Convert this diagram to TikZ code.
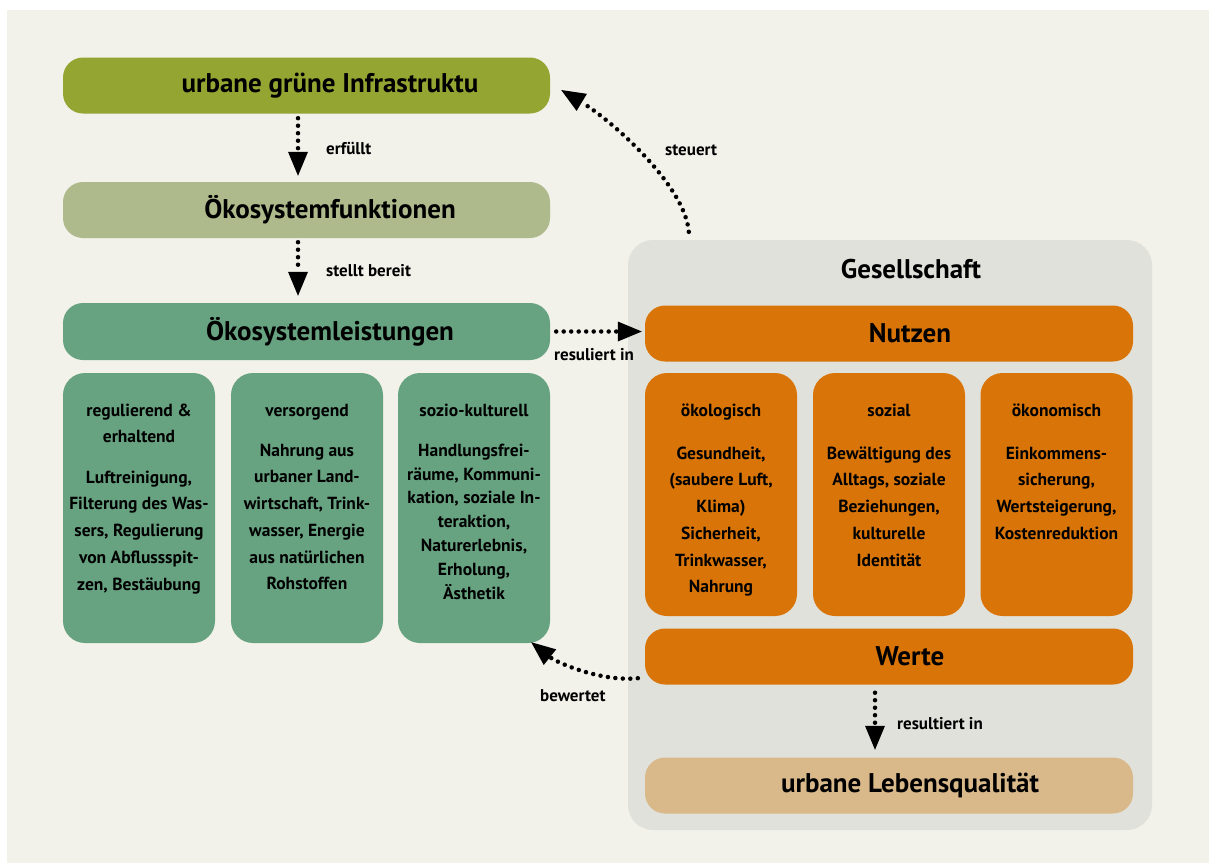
\documentclass[tikz,border=0pt]{standalone}
\usepackage{fontspec}
\setmainfont{PT Sans}
\usetikzlibrary{arrows.meta,calc}
\definecolor{bgc}{HTML}{F2F2EA}
\definecolor{olive}{HTML}{95A532}
\definecolor{sage}{HTML}{AEBA8B}
\definecolor{teal}{HTML}{67A381}
\definecolor{gesc}{HTML}{E1E1DB}
\definecolor{orng}{HTML}{D97508}
\definecolor{sand}{HTML}{D9B88A}
\newcommand\bigf{\fontsize{27}{32}\selectfont\bfseries}
\newcommand\smf{\fontsize{17.5}{26.7}\selectfont\bfseries}
\newcommand\lblf{\fontsize{17}{19}\selectfont\bfseries}
\newcommand\fl{\rule{0pt}{17pt}}
\tikzset{
  bar/.style={rounded corners=20pt, minimum width=487pt, minimum height=56pt, inner sep=0pt, font=\bigf, align=center},
  cbox/.style={rounded corners=22pt, minimum width=152pt, inner sep=0pt},
  btxt/.style={anchor=north, inner sep=0pt, align=center, font=\smf},
  lbl/.style={anchor=west, inner sep=0pt, font=\lblf},
  dotarrow/.style={line width=4.5pt, line cap=round, dash pattern=on 0pt off 7.5pt, -{Triangle[width=20pt,length=24pt,line width=0pt]}}
}
\begin{document}
\begin{tikzpicture}[x=1pt,y=-1pt]
\useasboundingbox (0,0) rectangle (1209,863);
\fill[white] (0,0) rectangle (1209,863);
\fill[bgc] (7,10) rectangle (1209,863);

% left column
\node[bar, fill=olive] (infra) at (306.5,85.5) {\hspace*{47pt}urbane grüne Infrastruktu};
\node[bar, fill=sage] (funk) at (306.5,210) {\hspace*{47pt}Ökosystemfunktionen};
\node[bar, fill=teal, minimum height=57pt] (leist) at (306.5,331.5) {\hspace*{47pt}Ökosystemleistungen};

\node[cbox, fill=teal, minimum height=270pt] (s1) at (139,508) {};
\node[cbox, fill=teal, minimum height=270pt] (s2) at (307,508) {};
\node[cbox, fill=teal, minimum height=270pt] (s3) at (474,508) {};

\node[btxt] (s1h) at (139,399) {\fl regulierend \&\\erhaltend};
\node[btxt] (s1b) at (139,466) {\fl Luftreinigung,\\Filterung des Was-\\sers, Regulierung\\von Abflussspit-\\zen, Bestäubung};
\node[btxt] (s2h) at (307,399) {\fl versorgend};
\node[btxt] (s2b) at (307,439) {\fl Nahrung aus\\urbaner Land-\\wirtschaft, Trink-\\wasser, Energie\\aus natürlichen\\Rohstoffen};
\node[btxt] (s3h) at (474,399) {\fl sozio-kulturell};
\node[btxt, font=\fontsize{17.5}{23.8}\selectfont\bfseries] (s3b) at (474,439) {\fl Handlungsfrei-\\räume, Kommuni-\\kation, soziale In-\\teraktion,\\Naturerlebnis,\\Erholung,\\Ästhetik};

% right column
\node[rounded corners=25pt, fill=gesc, minimum width=524pt, minimum height=590pt, inner sep=0pt] (gesell) at (890,535) {};
\node[inner sep=0pt, font=\bigf] (gtitle) at (911,269) {Gesellschaft};
\node[bar, fill=orng, minimum width=488pt] (nutzen) at (889,333.5) {\hspace*{42pt}Nutzen};

\node[cbox, fill=orng, minimum height=243pt] (o1) at (721,494.5) {};
\node[cbox, fill=orng, minimum height=243pt] (o2) at (889,494.5) {};
\node[cbox, fill=orng, minimum height=243pt] (o3) at (1056.5,494.5) {};

\node[btxt] (o1h) at (721,399) {\fl ökologisch};
\node[btxt] (o1b) at (721,442) {\fl Gesundheit,\\(saubere Luft,\\Klima)\\Sicherheit,\\Trinkwasser,\\Nahrung};
\node[btxt] (o2h) at (889,399) {\fl sozial};
\node[btxt] (o2b) at (889,442) {\fl Bewältigung des\\Alltags, soziale\\Beziehungen,\\kulturelle\\Identität};
\node[btxt] (o3h) at (1056.5,399) {\fl ökonomisch};
\node[btxt] (o3b) at (1056.5,442) {\fl Einkommens-\\sicherung,\\Wertsteigerung,\\Kostenreduktion};

\node[bar, fill=orng, minimum width=488pt] (werte) at (889,656.5) {\hspace*{42pt}Werte};
\node[bar, fill=sand, minimum width=488pt] (lebens) at (889,785.5) {\hspace*{42pt}urbane Lebensqualität};

% connectors
\draw[dotarrow] ([shift={(-8.5pt,-4.5pt)}]infra.south) -- ([shift={(-8.5pt,6pt)}]funk.north);
\draw[dotarrow] ([shift={(-8.5pt,-4pt)}]funk.south) -- ([shift={(-8.5pt,7pt)}]leist.north);
\draw[dotarrow] ([xshift=6pt]leist.east) -- ([xshift=-3pt]nutzen.west |- leist.east);
\draw[dotarrow] ([shift={(61pt,8pt)}]gesell.north west) .. controls (685,185) and (611,120) .. ([shift={(11pt,-4.5pt)}]infra.east);
\draw[dotarrow] ([shift={(-7pt,6.5pt)}]werte.south west) .. controls (600,682) and (556,662) .. ([shift={(-19pt,1pt)}]s3.south east);
\draw[dotarrow] ([shift={(-14pt,-8pt)}]werte.south) -- ([shift={(-14pt,7.5pt)}]lebens.north);

% connector labels
\node[lbl] (l1) at (326,148) {erfüllt};
\node[lbl] (l2) at (326,271) {stellt bereit};
\node[lbl] (l3) at (665,150) {steuert};
\node[lbl] (l4) at (554,355) {resuliert in};
\node[lbl] (l5) at (540,696) {bewertet};
\node[lbl] (l6) at (897,724) {resultiert in};
\end{tikzpicture}
\end{document}
